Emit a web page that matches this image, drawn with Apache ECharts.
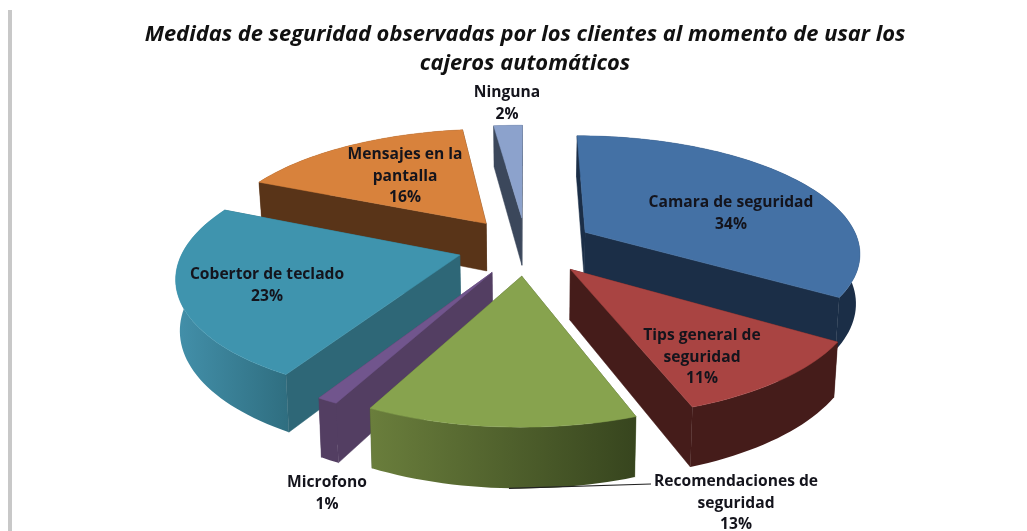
<!DOCTYPE html>
<html>
<head>
<meta charset="utf-8">
<style>html,body{margin:0;padding:0;background:#fff}#main{width:1027px;height:531px}</style>
<script src="https://cdn.jsdelivr.net/npm/echarts@6/dist/echarts.min.js"></script>
</head>
<body>
<div id="main"></div>
<script>
var categories = ["Camara de seguridad", "Tips general de\nseguridad", "Recomendaciones de\nseguridad", "Microfono", "Cobertor de teclado", "Mensajes en la\npantalla", "Ninguna"];
// shares, the labels show them rounded
var values = [34, 10.5, 12.9, 1, 23.2, 16.4, 2];
var titleText = "Medidas de seguridad observadas por los clientes al momento de usar los\ncajeros automáticos";

var topColors = ["#4471A5", "#A94442", "#87A34E", "#71558D", "#3F94AE", "#D8823C", "#8CA2CC"];
var wallColors = ["#1B2E47", "#451C1A", "#4F6030", "#533E62", "#2E6777", "#593418", "#3B475B"];
var arcFrom = ["#1B2E47", "#451C1A", "#6A7E3C", "#533E62", "#4390AA", "#593418", "#3B475B"];
var arcTo = ["#1B2E47", "#451C1A", "#37451E", "#533E62", "#2F6E80", "#593418", "#3B475B"];
// label anchors, pixel centres of the first line
var labelAt = [[731, 203], [702, 336], [736, 482], [327, 483], [267, 275], [405, 155], [507, 93]];

var view = { cx: 526, cy: 246, rx: 275, ry: 116, p: 0.16, depth: 49, explode: 0.25, startDeg: 0 };

function project(x, z, h) {
    var u = 1 / (1 - view.p * z);
    return [view.cx + view.rx * x * u * (1 - 0.012 * h), view.cy + view.ry * z * u + view.depth * h * u];
}

function sliceInfo(index) {
    var before = 0, total = 0;
    for (var i = 0; i < values.length; i++) {
        if (i < index) before += values[i];
        total += values[i];
    }
    var a0 = (view.startDeg + before / total * 360) * Math.PI / 180;
    var a1 = a0 + values[index] / total * 2 * Math.PI;
    var mid = (a0 + a1) / 2;
    return { a0: a0, a1: a1, ax: Math.sin(mid) * view.explode, az: -Math.cos(mid) * view.explode };
}

// back slices first
var drawOrder = values.map(function (v, i) { return i; }).sort(function (a, b) {
    return sliceInfo(a).az - sliceInfo(b).az;
});

function arcPoints(s, h, reverse) {
    var pts = [];
    var n = Math.max(4, Math.ceil((s.a1 - s.a0) / 0.03));
    for (var i = 0; i <= n; i++) {
        var a = s.a0 + (s.a1 - s.a0) * i / n;
        pts.push(project(s.ax + Math.sin(a), s.az - Math.cos(a), h));
    }
    return reverse ? pts.reverse() : pts;
}

function radialWall(s, a, fill) {
    var ox = s.ax + Math.sin(a), oz = s.az - Math.cos(a);
    return {
        meanZ: (s.az + oz) / 2,
        el: {
            type: "polygon",
            shape: { points: [project(s.ax, s.az, 0), project(ox, oz, 0), project(ox, oz, 1), project(s.ax, s.az, 1)] },
            style: { fill: fill, stroke: fill, lineWidth: 0.5 }
        }
    };
}

function renderSlice(params, api) {
    var idx = api.value(0);
    var s = sliceInfo(idx);
    var walls = [radialWall(s, s.a0, wallColors[idx]), radialWall(s, s.a1, wallColors[idx])];
    var mid = (s.a0 + s.a1) / 2;
    walls.push({
        meanZ: s.az - Math.cos(mid),
        el: {
            type: "polygon",
            shape: { points: arcPoints(s, 0).concat(arcPoints(s, 1, true)) },
            style: {
                fill: {
                    type: "linear", x: 0, y: 0, x2: 1, y2: 0,
                    colorStops: [{ offset: 0, color: arcFrom[idx] }, { offset: 1, color: arcTo[idx] }]
                }
            }
        }
    });
    walls.sort(function (a, b) { return a.meanZ - b.meanZ; });
    var children = walls.map(function (w) { return w.el; });
    children.push({
        type: "polygon",
        shape: { points: [project(s.ax, s.az, 0)].concat(arcPoints(s, 0)) },
        style: { fill: topColors[idx], stroke: topColors[idx], lineWidth: 0.5 }
    });
    return { type: "group", children: children };
}

function renderLabel(params, api) {
    var idx = api.value(0);
    var at = labelAt[idx];
    var children = [{
        type: "text",
        style: {
            text: categories[idx] + "\n" + Math.round(values[idx]) + "%",
            x: at[0], y: at[1] - 11,
            align: "center", verticalAlign: "top",
            lineHeight: 21.5,
            fontFamily: "Open Sans", fontWeight: "bold", fontSize: 15.6,
            fill: "#14141c"
        }
    }];
    // leader line of the bottom label
    if (idx === 2) {
        var s = sliceInfo(idx);
        var a = s.a0 + (s.a1 - s.a0) * 0.47;
        var p = project(s.ax + Math.sin(a), s.az - Math.cos(a), 1);
        children.push({
            type: "polyline",
            shape: { points: [p, [651, 484]] },
            style: { stroke: "#222", lineWidth: 1.2, fill: null }
        });
    }
    return { type: "group", children: children };
}

var chart = echarts.init(document.getElementById("main"));
chart.setOption({
    animation: false,
    backgroundColor: "#fff",
    title: {
        text: titleText,
        left: 520, top: 15,
        textAlign: "center",
        textStyle: { fontFamily: "Open Sans", fontStyle: "italic", fontWeight: "bold", fontSize: 21.9, lineHeight: 29, color: "#111" }
    },
    graphic: [{ type: "rect", left: 8, top: 10, shape: { width: 4, height: 521 }, style: { fill: "#C8C8C8" } }],
    series: [
        { type: "custom", coordinateSystem: "none", renderItem: renderSlice, z: 2,
          data: drawOrder.map(function (i) { return [i, values[i]]; }) },
        { type: "custom", coordinateSystem: "none", renderItem: renderLabel, z: 3,
          data: values.map(function (v, i) { return [i, v]; }) }
    ]
});
</script>
</body>
</html>
